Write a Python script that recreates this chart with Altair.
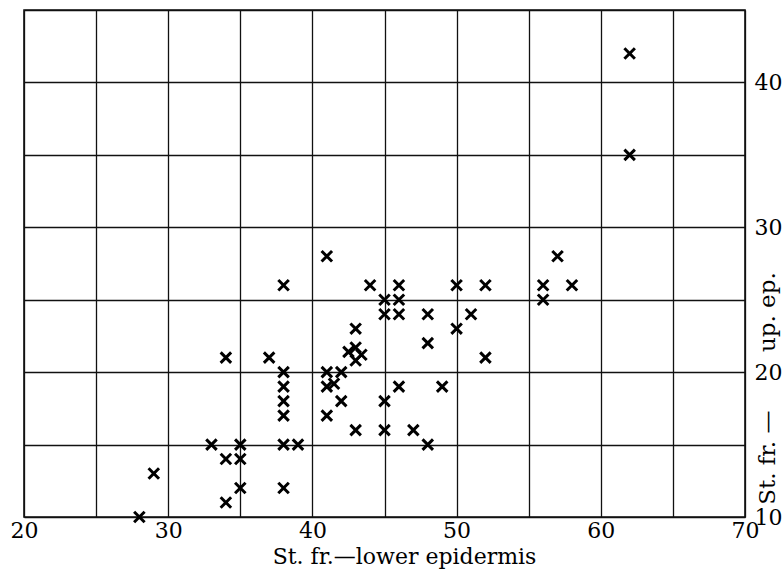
import altair as alt
import pandas as pd

# St. fr. lower epidermis (x) vs St. fr. upper epidermis (y)
lower_ep = [62, 62, 41, 57,
            38, 44, 46, 50, 52, 56, 58,
            45, 46, 56,
            45, 46, 48, 51,
            43, 50,
            48,
            42.5, 43, 43.4, 43,
            34, 37, 52,
            38, 41, 42,
            38, 41, 41.5, 46, 49,
            38, 42, 45,
            38, 41,
            43, 45, 47,
            33, 35, 38, 39, 48,
            34, 35,
            29,
            35, 38,
            34,
            28]
upper_ep = [42, 35, 28, 28,
            26, 26, 26, 26, 26, 26, 26,
            25, 25, 25,
            24, 24, 24, 24,
            23, 23,
            22,
            21.4, 21.7, 21.2, 20.8,
            21, 21, 21,
            20, 20, 20,
            19, 19, 19.2, 19, 19,
            18, 18, 18,
            17, 17,
            16, 16, 16,
            15, 15, 15, 15, 15,
            14, 14,
            13,
            12, 12,
            11,
            10]

x_ticks = [20, 25, 30, 35, 40, 45, 50, 55, 60, 65, 70]
y_ticks = [10, 15, 20, 25, 30, 35, 40, 45]

df = pd.DataFrame({"lower": lower_ep, "upper": upper_ep})

FONT = "DejaVu Serif"
X_SHAPE = "M-1,-1L1,1M-1,1L1,-1"
NBSP = "\u00a0"

chart = alt.Chart(df).mark_point(
    shape=X_SHAPE, filled=False, color="black", strokeWidth=3, size=110, opacity=1
).encode(
    x=alt.X("lower:Q",
            scale=alt.Scale(domain=[20, 70], nice=False, zero=False),
            axis=alt.Axis(values=x_ticks, orient="bottom",
                          labelExpr="datum.value % 10 == 0 ? datum.label : ''",
                          title="St. fr.—lower epidermis",
                          titleX=380, titleY=46, titleBaseline="alphabetic",
                          titleAlign="center", titleFont=FONT, titleFontSize=22,
                          titleFontWeight="normal", titleColor="black",
                          labelFont=FONT, labelFontSize=22, labelColor="black",
                          labelPadding=3, tickSize=0, domain=False,
                          labelFlush=False, labelBound=False,
                          grid=True, gridColor="#111", gridWidth=1.3, gridOpacity=1)),
    y=alt.Y("upper:Q",
            scale=alt.Scale(domain=[10, 45], nice=False, zero=False),
            axis=alt.Axis(values=y_ticks, orient="right",
                          labelExpr="datum.value % 10 == 0 ? datum.label : ''",
                          title="St. fr. —" + NBSP * 8 + "up. ep.",
                          titleAngle=270, titleX=22, titleY=378,
                          titleAlign="center", titleBaseline="middle",
                          titleFont=FONT, titleFontSize=23, titleFontWeight="normal",
                          titleColor="black",
                          labelFont=FONT, labelFontSize=22, labelColor="black",
                          labelPadding=9, tickSize=0, domain=False,
                          labelFlush=False, labelBound=False, labelAlign="left",
                          grid=True, gridColor="#111", gridWidth=1.3, gridOpacity=1)),
).properties(
    width=721, height=507,
    autosize=alt.AutoSizeParams(type="none"),
    padding={"left": 24, "top": 10, "right": 39, "bottom": 54},
    background="white",
).configure_view(stroke="#111", strokeWidth=1.6)

chart.save("out.html", embed_options={"renderer": "svg", "actions": False})
